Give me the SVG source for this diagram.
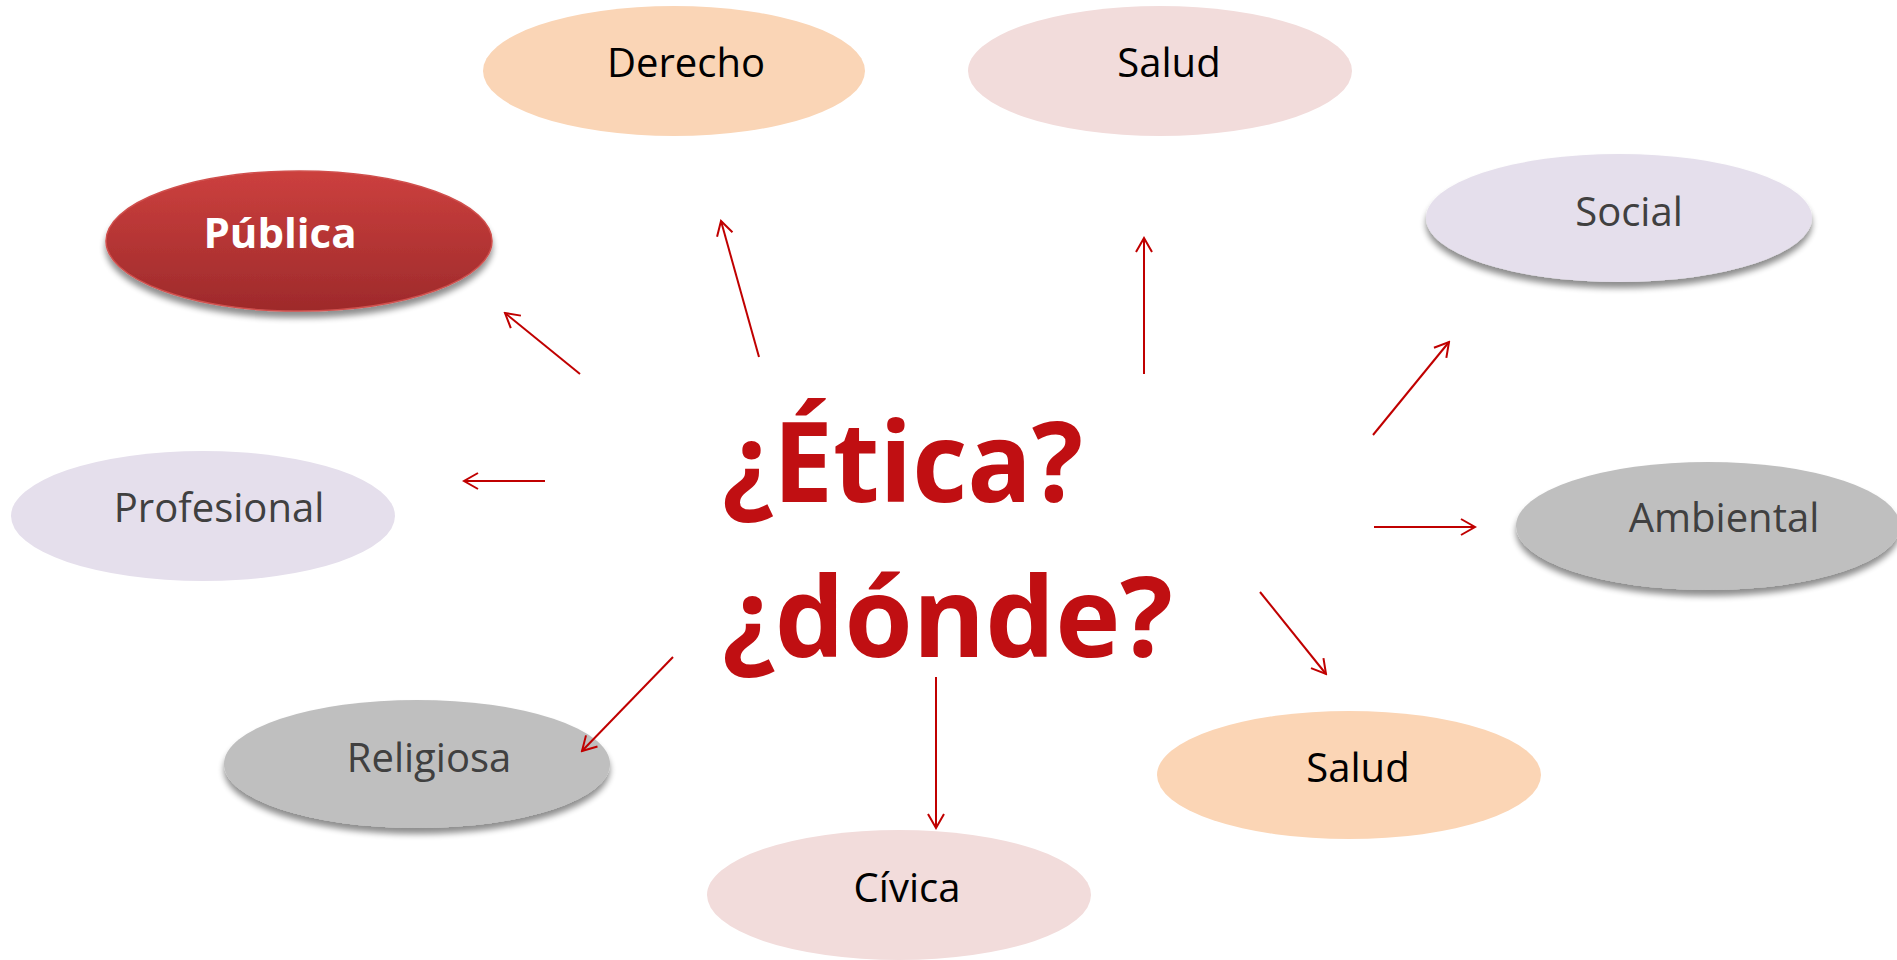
<svg xmlns="http://www.w3.org/2000/svg" width="1897" height="960" viewBox="0 0 1897 960">
<defs>
<style>
.lbl{font-family:"Open Sans","Noto Sans","Liberation Sans",sans-serif;font-size:40px;text-anchor:middle}
.dark{fill:#000}
.gray{fill:#404040}
.conn line{stroke:#C00000;stroke-width:2;fill:none}
.title{font-family:"Open Sans","Noto Sans","Liberation Sans",sans-serif;font-weight:bold;font-size:112px;fill:#C00F12}
</style>
<marker id="ah" viewBox="0 0 20 20" refX="18" refY="10" markerWidth="20" markerHeight="20" markerUnits="userSpaceOnUse" orient="auto">
<path d="M4,2 L18,10 L4,18" fill="none" stroke="#C00000" stroke-width="2"/>
</marker>
<linearGradient id="red" x1="0" y1="0" x2="0" y2="1">
<stop offset="0" stop-color="#CC403E"/>
<stop offset="1" stop-color="#9E2A2B"/>
</linearGradient>
<filter id="sh" x="-20%" y="-20%" width="140%" height="160%">
<feGaussianBlur in="SourceAlpha" stdDeviation="3"/>
<feOffset dx="0" dy="6" result="b"/>
<feComponentTransfer><feFuncA type="linear" slope="0.45"/></feComponentTransfer>
<feMerge><feMergeNode/><feMergeNode in="SourceGraphic"/></feMerge>
</filter>
</defs>
<rect width="1897" height="960" fill="#fff"/>

<g id="derecho"><ellipse cx="674" cy="71" rx="191" ry="65" fill="#FAD5B6"/><text class="lbl dark" x="686" y="77">Derecho</text></g>
<g id="salud-top"><ellipse cx="1160" cy="71" rx="192" ry="65" fill="#F2DCDB"/><text class="lbl dark" x="1169" y="77">Salud</text></g>
<g id="social"><ellipse cx="1619" cy="218" rx="193" ry="64" fill="#E5DFEC" filter="url(#sh)"/><text class="lbl gray" x="1629" y="226">Social</text></g>
<g id="publica"><ellipse cx="299" cy="241" rx="193" ry="70" fill="url(#red)" stroke="#D0504D" stroke-width="1.5" filter="url(#sh)"/><text class="lbl" x="280" y="248" style="fill:#fff;font-weight:bold;font-size:42px">Pública</text></g>
<g id="profesional"><ellipse cx="203" cy="516" rx="192" ry="65" fill="#E5DFEC"/><text class="lbl gray" x="219" y="522">Profesional</text></g>
<g id="ambiental"><ellipse cx="1708" cy="526" rx="192" ry="64" fill="#BFBFBF" filter="url(#sh)"/><text class="lbl gray" x="1724" y="532">Ambiental</text></g>
<g id="religiosa"><ellipse cx="417" cy="764" rx="193" ry="64" fill="#BFBFBF" filter="url(#sh)"/><text class="lbl gray" x="429" y="772">Religiosa</text></g>
<g id="salud-bottom"><ellipse cx="1349" cy="775" rx="192" ry="64" fill="#FBD5B5"/><text class="lbl dark" x="1358" y="782">Salud</text></g>
<g id="civica"><ellipse cx="899" cy="895" rx="192" ry="65" fill="#F2DCDB"/><text class="lbl dark" x="907" y="902">Cívica</text></g>

<g id="center">
<text class="title" x="722" y="502" textLength="361" lengthAdjust="spacingAndGlyphs">¿Ética?</text>
<text class="title" x="722" y="657" textLength="451" lengthAdjust="spacingAndGlyphs">¿dónde?</text>
</g>

<g id="connectors" class="conn">
<line x1="580" y1="374" x2="505" y2="313" marker-end="url(#ah)"/>
<line x1="759" y1="357" x2="721" y2="221" marker-end="url(#ah)"/>
<line x1="1144" y1="374" x2="1144" y2="238" marker-end="url(#ah)"/>
<line x1="1373" y1="435" x2="1449" y2="342" marker-end="url(#ah)"/>
<line x1="545" y1="481" x2="464" y2="481" marker-end="url(#ah)"/>
<line x1="1374" y1="527" x2="1475" y2="527" marker-end="url(#ah)"/>
<line x1="1260" y1="592" x2="1326" y2="674" marker-end="url(#ah)"/>
<line x1="936" y1="677" x2="936" y2="828" marker-end="url(#ah)"/>
<line x1="673" y1="657" x2="582" y2="751" marker-end="url(#ah)"/>
</g>
</svg>
